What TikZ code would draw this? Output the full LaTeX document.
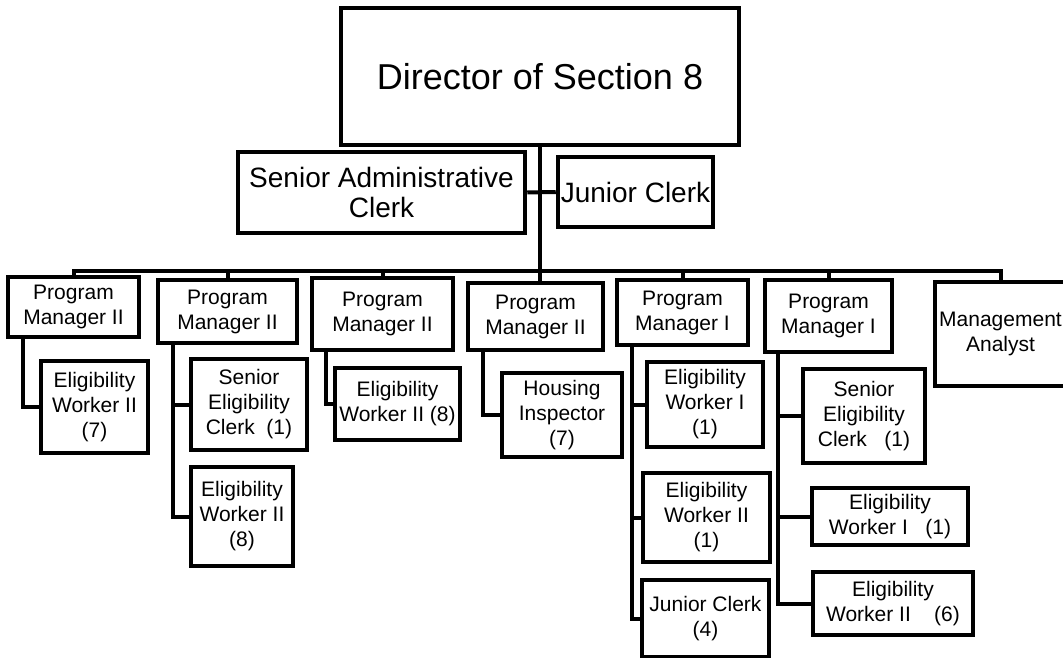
\documentclass[tikz,border=0pt]{standalone}
\usepackage{fontspec}
\setmainfont{Liberation Sans}
\usepackage{tikz}
\usetikzlibrary{calc,positioning}
\tikzset{
  post/.style={draw, line width=4.5pt, inner sep=0pt, align=center,
    font=\fontsize{21}{25}\selectfont},
  link/.style={line width=4pt},
}
\begin{document}
\begin{tikzpicture}[x=1pt,y=-1pt]
  \useasboundingbox (0,0) rectangle (1063,658);

  % top of the chart
  \node[post, minimum width=398, minimum height=137, font=\fontsize{36}{40}\selectfont] (dir) at (540,76.5) {Director of Section 8};
  \node[post, minimum width=287, minimum height=81, font=\fontsize{28}{30}\selectfont] (sac) at (381.5,192.5) {Senior Administrative\\Clerk};
  \node[post, minimum width=155, minimum height=70, font=\fontsize{28}{30}\selectfont] (jc) at (635.5,192) {Junior Clerk};

  % program managers
  \node[post, minimum width=131, minimum height=60] (pm1) at (73.5,307) {Program\\Manager II};
  \node[post, minimum width=139, minimum height=63] (pm2) at (227.5,311.5) {Program\\Manager II};
  \node[post, minimum width=141, minimum height=72] (pm3) at (382.5,314) {Program\\Manager II};
  \node[post, minimum width=135, minimum height=67] (pm4) at (535.5,316.5) {Program\\Manager II};
  \node[post, minimum width=131, minimum height=65] (pm5) at (682.5,312.5) {Program\\Manager I};
  \node[post, minimum width=127, minimum height=72] (pm6) at (828.5,316) {Program\\Manager I};
  \node[post, minimum width=131, minimum height=104] (ma) at (1000.5,334) {Management\\Analyst};

  % staff
  \node[post, minimum width=107, minimum height=92] (ew7) at (94.5,407) {Eligibility\\Worker II\\(7)};
  \node[post, minimum width=116, minimum height=91] (sec2) at (249,404.5) {Senior\\Eligibility\\Clerk~~(1)};
  \node[post, minimum width=102, minimum height=99] (ew8a) at (242,516.5) {Eligibility\\Worker II\\(8)};
  \node[post, minimum width=125, minimum height=72] (ew8b) at (397.5,404) {Eligibility\\Worker II (8)};
  \node[post, minimum width=120, minimum height=84] (hi7) at (562,415) {Housing\\Inspector\\(7)};
  \node[post, minimum width=116, minimum height=85] (ew1a) at (705,404.5) {Eligibility\\Worker I\\(1)};
  \node[post, minimum width=127, minimum height=89] (ew1b) at (706.5,517.5) {Eligibility\\Worker II\\(1)};
  \node[post, minimum width=127, minimum height=77] (jc4) at (705.5,618.5) {Junior Clerk\\(4)};
  \node[post, minimum width=122, minimum height=94] (sec6) at (864,416) {Senior\\Eligibility\\Clerk~~~(1)};
  \node[post, minimum width=156, minimum height=57] (ew1c) at (890,516.5) {Eligibility\\Worker I~~~(1)};
  \node[post, minimum width=160, minimum height=63] (ew6) at (893,603.5) {Eligibility\\Worker II~~~~(6)};

  % director down to the bus
  \draw[link] (dir.south) -- (dir.south |- pm4.north);
  \draw[link] (sac.east) -- (jc.west);

  % bus and drops
  \coordinate (bus) at (0,271);
  \draw[link] (pm1.north) -- (pm1.north |- bus) -- (ma.north |- bus) -- (ma.north);
  \foreach \p in {pm2,pm3,pm5,pm6}
    \draw[link] (\p.north) -- (\p.north |- bus);

  % spines under the managers
  \coordinate (sp1) at (23,0);
  \coordinate (sp2) at (173,0);
  \coordinate (sp3) at (326,0);
  \coordinate (sp4) at (483,0);
  \coordinate (sp5) at (632,0);
  \coordinate (sp6) at (778,0);
  \draw[link] (pm1.south -| sp1) |- (ew7.west);
  \foreach \c in {sec2,ew8a}
    \draw[link] (pm2.south -| sp2) |- (\c.west);
  \draw[link] (pm3.south -| sp3) |- (ew8b.west);
  \draw[link] (pm4.south -| sp4) |- (hi7.west);
  \foreach \c in {ew1a,ew1b,jc4}
    \draw[link] (pm5.south -| sp5) |- (\c.west);
  \foreach \c in {sec6,ew1c,ew6}
    \draw[link] (pm6.south -| sp6) |- (\c.west);
\end{tikzpicture}
\end{document}
